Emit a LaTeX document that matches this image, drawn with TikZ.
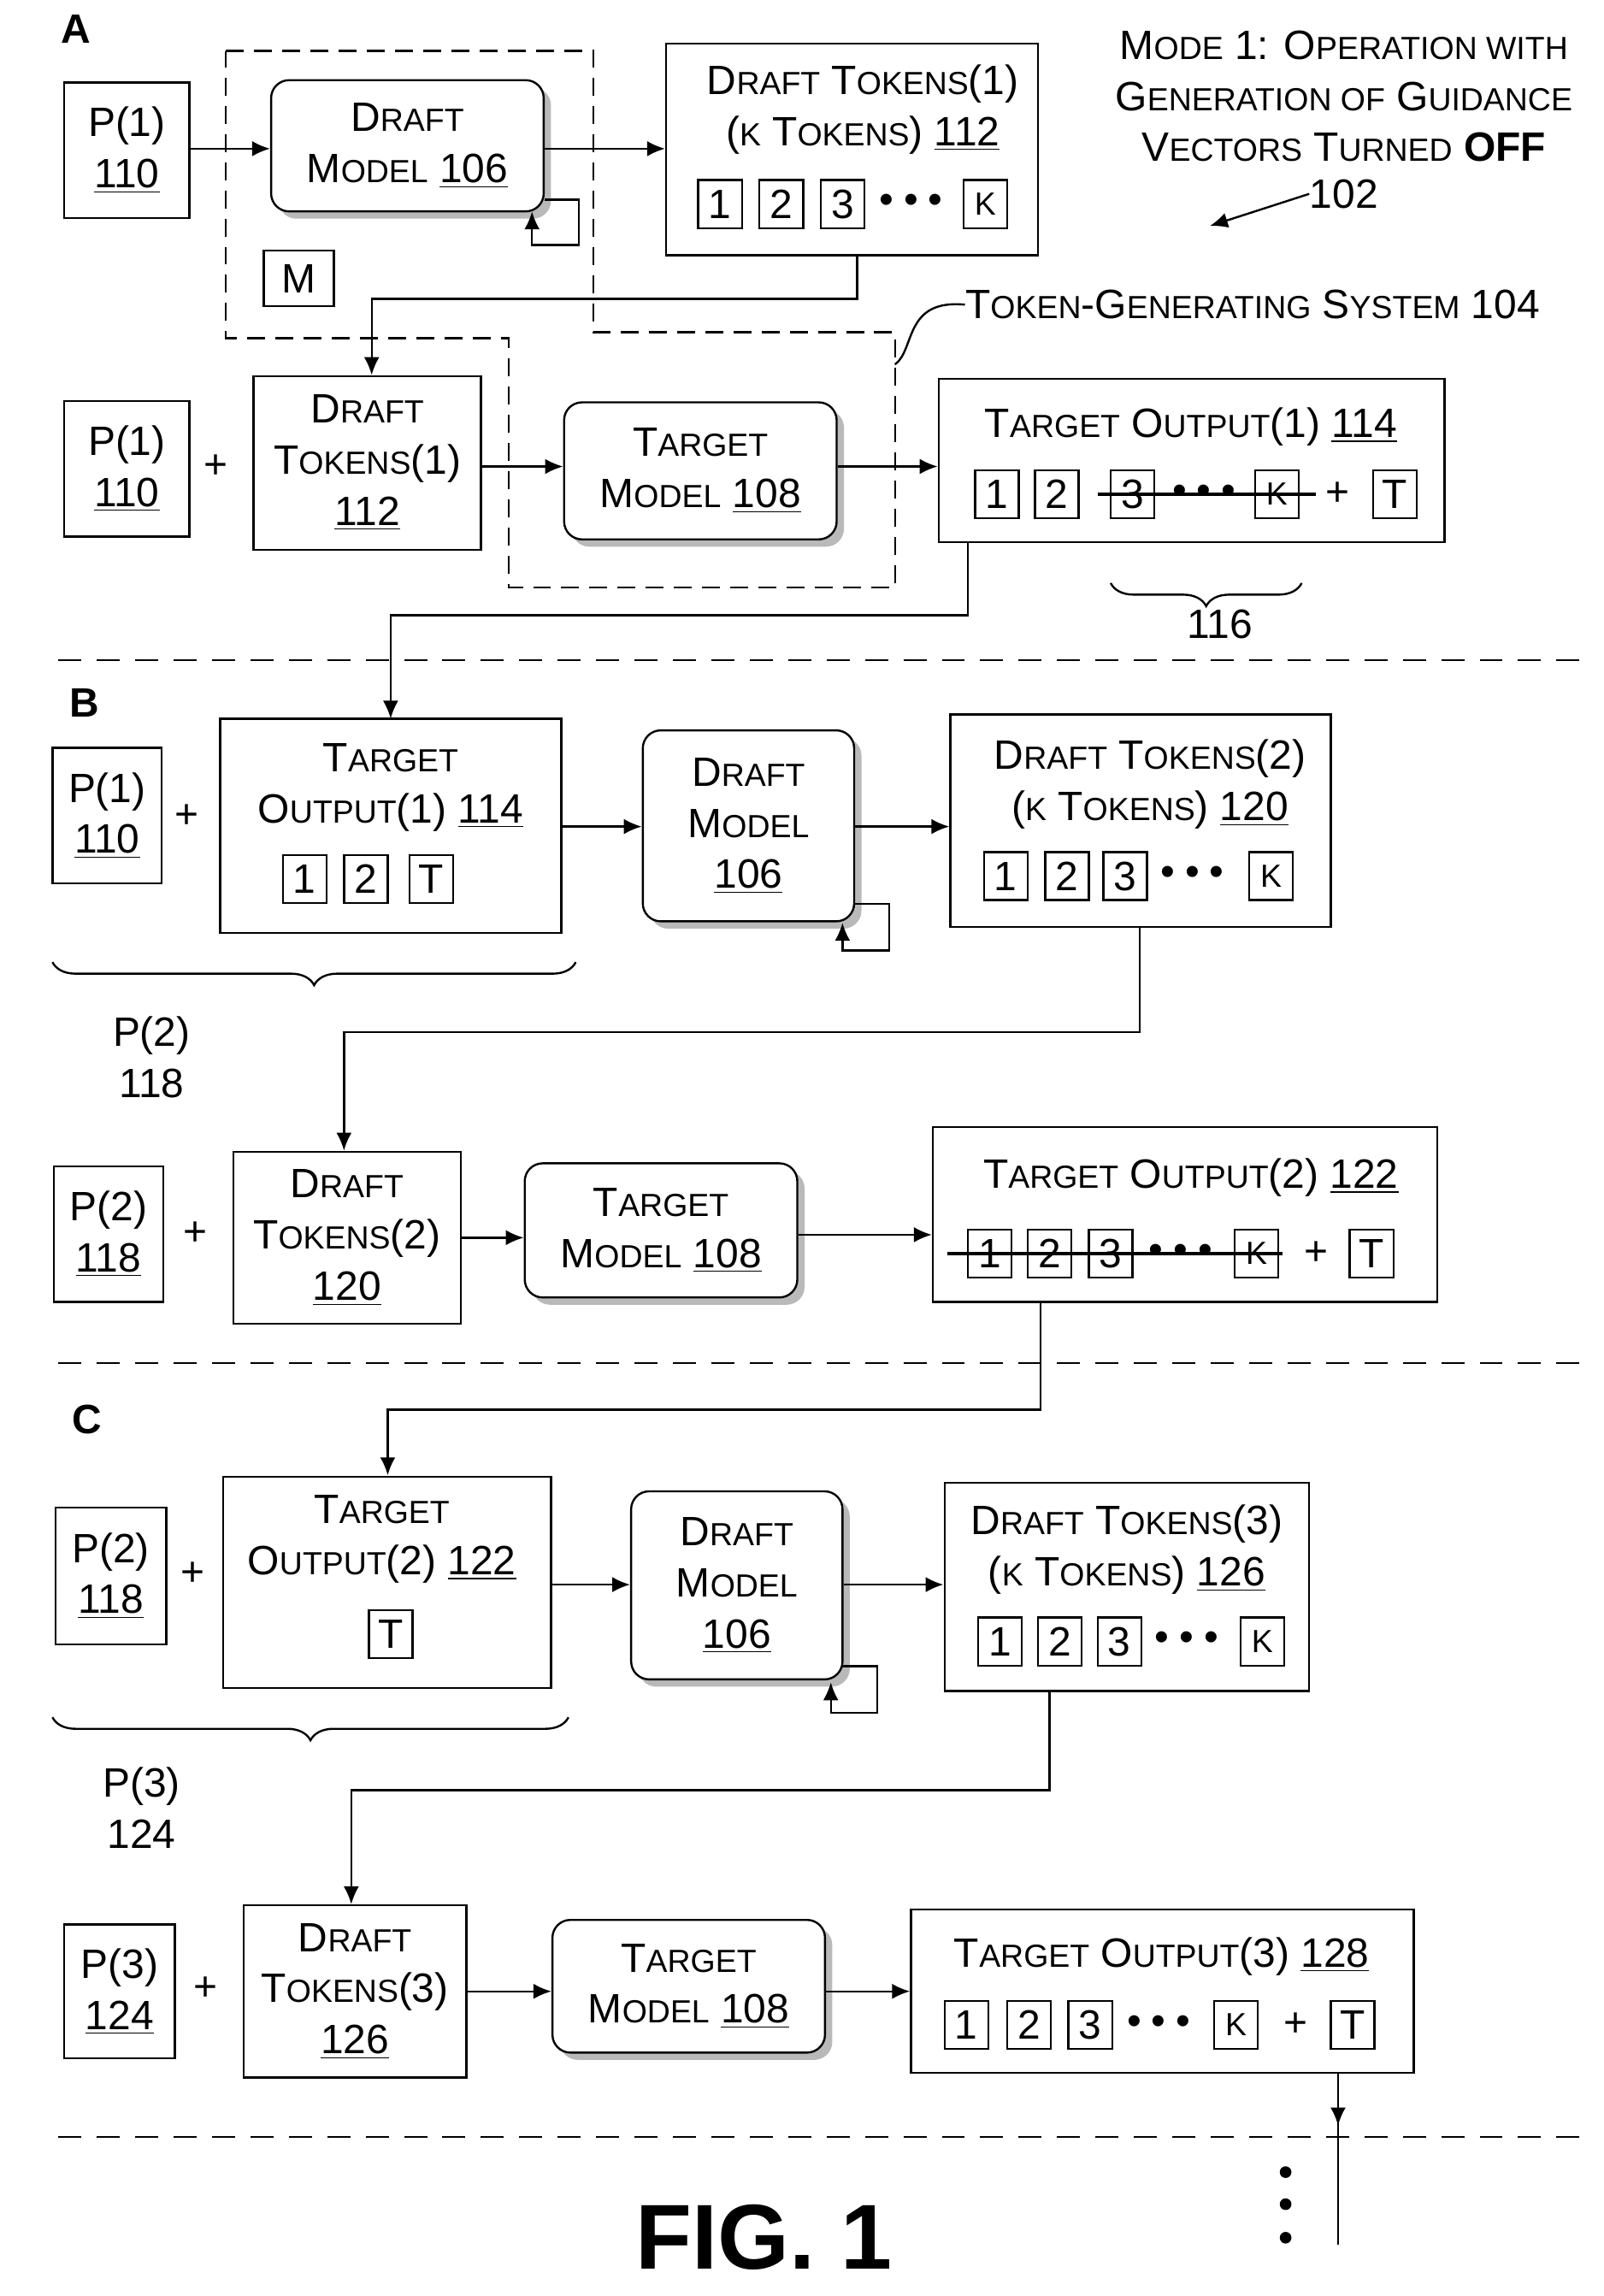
\documentclass[tikz,border=0pt]{standalone}
\usepackage{fontspec}
\setmainfont{Liberation Sans}
\usetikzlibrary{arrows.meta}
\usetikzlibrary{positioning}
\usetikzlibrary{shadows}
\usetikzlibrary{decorations.pathreplacing}
\newcommand\sm{\fontsize{12.5}{14}\selectfont}
\newcommand\dts{•\hspace{4pt}•\hspace{4pt}•}

\tikzset{
  sz/.style 2 args={minimum width=#1*0.02cm, minimum height=#2*0.02cm},
  box/.style={draw, thick, fill=white, inner sep=0pt, align=center},
  model/.style={box, rounded corners=7pt, drop shadow={shadow xshift=0.1cm, shadow yshift=-0.1cm, fill=gray!55, opacity=1}},
  tok/.style={draw, thick, minimum width=0.6cm, minimum height=0.66cm, inner sep=0pt},
  txt/.style={align=center, inner sep=0pt},
  arr/.style={thick, -{Latex[length=7pt, width=6pt]}},
  sep/.style={thick, dash pattern=on 9pt off 6pt},
  brc/.style={thick, decorate, decoration={brace, amplitude=9pt}},
}

\begin{document}
\begin{tikzpicture}[x=0.02cm, y=-0.02cm, font=\fontsize{16}{20}\selectfont]
	\useasboundingbox (0,0) rectangle (1100,1575);

	% section A
	\node[txt, font=\fontsize{16}{18}\selectfont\bfseries] (labA) at (52,20) {A};
	\draw[thick, dash pattern=on 7pt off 4pt] (155,35) -- (407,35) -- (407,228) -- (614,228) -- (614,403) -- (349,403) -- (349,232) -- (155,232) -- cycle;
	\node[box, sz={86}{93}] (pA1) at (87,103) {P(1)\\\underline{110}};
	\node[model, sz={187}{90}] (dmA) at (279.5,100) {D{\sm RAFT}\\M{\sm ODEL} \underline{106}};
	\node[box, sz={48}{38}] (mA) at (205,191) {M};
	\node[box, sz={255}{145}] (dtA) at (584.5,102.5) {};
	\node[txt] (dtAt) at (592,75) {D{\sm RAFT} T{\sm OKENS}(1)\\({\sm K} T{\sm OKENS}) \underline{112}};
	\foreach \n/\x/\t in {1/494/1, 2/536/2, 3/578/3, k/676/{\sm K}}
		\node[tok] (tA\n) at (\x,140) {\t};
	\node[txt] (dA) at (625,140) {\dts};
	\coordinate (loopA) at (397,168);
	\draw[arr] (dmA.east |- 0,137) -- (397,137) -- (loopA) -- (365,168) -- (365,145);
	\draw[arr] (pA1.east |- 0,102) -- (dmA.west |- 0,102);
	\draw[arr] (dmA.east |- 0,102) -- (dtA.west |- 0,102);

	\node[txt, anchor=center] (mode) at (922,66) {M{\sm ODE} 1: O{\sm PERATION WITH}\\G{\sm ENERATION OF} G{\sm UIDANCE}\\V{\sm ECTORS} T{\sm URNED} \textbf{OFF}};
	\node[txt] (n102) at (922,133) {102};
	\draw[arr] (n102.west) -- (830,155);
	\node[txt, anchor=west] (tgs) at (662,209) {T{\sm OKEN}-G{\sm ENERATING} S{\sm YSTEM} 104};
	\draw[thick] (614,250) .. controls (628,240) and (620,205) .. (tgs.west);

	\node[box, sz={86}{93}] (pA2) at (87,321.5) {P(1)\\\underline{110}};
	\node[txt] (plA) at (148,320) {+};
	\node[box, sz={156}{119}] (dtA2) at (252,317.5) {D{\sm RAFT}\\T{\sm OKENS}(1)\\\underline{112}};
	\node[model, sz={187}{94}] (tmA) at (480.5,323) {T{\sm ARGET}\\M{\sm ODEL} \underline{108}};
	\node[box, sz={347}{112}] (toA) at (817.5,316) {};
	\node[txt] (toAt) at (817,293) {T{\sm ARGET} O{\sm UTPUT}(1) \underline{114}};
	\foreach \n/\x/\t in {1/684/1, 2/725/2, 3/777/3, k/876/{\sm K}, T/957/T}
		\node[tok] (uA\n) at (\x,339) {\t};
	\node[txt] (dA2) at (826,339) {\dts};
	\node[txt] (pl2) at (918,339) {+};
	\draw[very thick] (753,339) -- (903,339);
	\draw[brc] (893,400) -- (762,400);
	\node[txt] (n116) at (837,428) {116};
	\draw[arr] (dtA2.east |- 0,320) -- (tmA.west |- 0,320);
	\draw[arr] (tmA.east |- 0,320) -- (toA.west |- 0,320);
	\draw[arr] (dtA.south -| 588,0) -- (588,205) -- (255,205) -- (dtA2.north -| 255,0);
	\draw[arr] (toA.south -| 664,0) -- (664,422) -- (268,422) -- (268,493);

	\draw[sep] (40,453) -- (1085,453);

	% section B
	\node[txt, font=\fontsize{16}{18}\selectfont\bfseries] (labB) at (58,482) {B};
	\node[box, sz={75}{93}] (pB1) at (73.5,559.5) {P(1)\\\underline{110}};
	\node[txt] (plB) at (128,560) {+};
	\node[box, sz={234}{147}] (toB) at (268,566.5) {};
	\node[txt] (toBt) at (268,540) {T{\sm ARGET}\\O{\sm UTPUT}(1) \underline{114}};
	\foreach \n/\x/\t in {1/209/1, 2/251/2, T/296/T}
		\node[tok] (uB\n) at (\x,603) {\t};
	\node[model, sz={145}{131}] (dmB) at (513.5,566.5) {D{\sm RAFT}\\M{\sm ODEL}\\\underline{106}};
	\node[box, sz={261}{146}] (dtB) at (782.5,563) {};
	\node[txt] (dtBt) at (789,538) {D{\sm RAFT} T{\sm OKENS}(2)\\({\sm K} T{\sm OKENS}) \underline{120}};
	\foreach \n/\x/\t in {1/690/1, 2/732/2, 3/772/3, k/872/{\sm K}}
		\node[tok] (tB\n) at (\x,601) {\t};
	\node[txt] (dB) at (818,601) {\dts};
	\draw[arr] (586,620) -- (610,620) -- (610,652) -- (578,652) -- (578,633);
	\draw[arr] (toB.east |- 0,567) -- (dmB.west |- 0,567);
	\draw[arr] (dmB.east |- 0,567) -- (dtB.west |- 0,567);
	\draw[brc] (395,660) -- (36,660);
	\node[txt] (p2B) at (104,725) {P(2)\\118};

	\node[box, sz={75}{93}] (pB2) at (74.5,846.5) {P(2)\\\underline{118}};
	\node[txt] (plB2) at (134,846) {+};
	\node[box, sz={156}{118}] (dtB2) at (238,849) {D{\sm RAFT}\\T{\sm OKENS}(2)\\\underline{120}};
	\node[model, sz={187}{92}] (tmB) at (453.5,844) {T{\sm ARGET}\\M{\sm ODEL} \underline{108}};
	\node[box, sz={346}{120}] (toB2) at (813,833) {};
	\node[txt] (toB2t) at (817,808) {T{\sm ARGET} O{\sm UTPUT}(2) \underline{122}};
	\foreach \n/\x/\t in {1/679/1, 2/720/2, 3/762/3, k/862/{\sm K}, T/941/T}
		\node[tok] (uC\n) at (\x,860) {\t};
	\node[txt] (dB2) at (810,860) {\dts};
	\node[txt] (plB3) at (903,860) {+};
	\draw[very thick] (650,860) -- (880,860);
	\draw[arr] (dtB.south -| 782,0) -- (782,708) -- (236,708) -- (dtB2.north -| 236,0);
	\draw[arr] (dtB2.east |- 0,849) -- (tmB.west |- 0,849);
	\draw[arr] (tmB.east |- 0,847) -- (toB2.west |- 0,847);
	\draw[arr] (toB2.south -| 714,0) -- (714,967) -- (266,967) -- (266,1012);

	\draw[sep] (40,935) -- (1085,935);

	% section C
	\node[txt, font=\fontsize{16}{18}\selectfont\bfseries] (labC) at (60,974) {C};
	\node[box, sz={76}{94}] (pC1) at (76,1081) {P(2)\\\underline{118}};
	\node[txt] (plC) at (132,1080) {+};
	\node[box, sz={225}{145}] (toC) at (265.5,1085.5) {};
	\node[txt] (toCt) at (262,1056) {T{\sm ARGET}\\O{\sm UTPUT}(2) \underline{122}};
	\node[tok] (uDT) at (268,1121) {T};
	\node[model, sz={145}{129}] (dmC) at (505.5,1087.5) {D{\sm RAFT}\\M{\sm ODEL}\\\underline{106}};
	\node[box, sz={250}{143}] (dtC) at (773,1088.5) {};
	\node[txt] (dtCt) at (773,1063) {D{\sm RAFT} T{\sm OKENS}(3)\\({\sm K} T{\sm OKENS}) \underline{126}};
	\foreach \n/\x/\t in {1/686/1, 2/727/2, 3/768/3, k/866/{\sm K}}
		\node[tok] (tC\n) at (\x,1126) {\t};
	\node[txt] (dC) at (814,1126) {\dts};
	\draw[arr] (578,1143) -- (602,1143) -- (602,1175) -- (570,1175) -- (570,1154);
	\draw[arr] (toC.east |- 0,1087) -- (dmC.west |- 0,1087);
	\draw[arr] (dmC.east |- 0,1087) -- (dtC.west |- 0,1087);
	\draw[brc] (390,1178) -- (36,1178);
	\node[txt] (p3C) at (97,1240) {P(3)\\124};

	\node[box, sz={76}{92}] (pC2) at (82,1366) {P(3)\\\underline{124}};
	\node[txt] (plC2) at (141,1364) {+};
	\node[box, sz={153}{118}] (dtC2) at (243.5,1366) {D{\sm RAFT}\\T{\sm OKENS}(3)\\\underline{126}};
	\node[model, sz={187}{91}] (tmC) at (472.5,1362.5) {T{\sm ARGET}\\M{\sm ODEL} \underline{108}};
	\node[box, sz={345}{112}] (toC2) at (797.5,1366) {};
	\node[txt] (toC2t) at (797,1342) {T{\sm ARGET} O{\sm UTPUT}(3) \underline{128}};
	\foreach \n/\x/\t in {1/663/1, 2/706/2, 3/748/3, k/848/{\sm K}, T/928/T}
		\node[tok] (uE\n) at (\x,1389) {\t};
	\node[txt] (dC2) at (795,1389) {\dts};
	\node[txt] (plC3) at (889,1389) {+};
	\draw[arr] (dtC.south -| 720,0) -- (720,1228) -- (241,1228) -- (dtC2.north -| 241,0);
	\draw[arr] (dtC2.east |- 0,1366) -- (tmC.west |- 0,1366);
	\draw[arr] (tmC.east |- 0,1366) -- (toC2.west |- 0,1366);
	\coordinate (endC) at (918,1540);
	\draw[arr] (toC2.south -| 918,0) -- (918,1458);
	\draw[thick] (918,1450) -- (endC);
	\foreach \y in {1490,1512,1535}
		\fill (882,\y) circle (4);

	\draw[sep] (40,1466) -- (1085,1466);
	\node[txt, font=\fontsize{36}{40}\selectfont\bfseries] (fig) at (524,1535) {FIG. 1};
\end{tikzpicture}
\end{document}
